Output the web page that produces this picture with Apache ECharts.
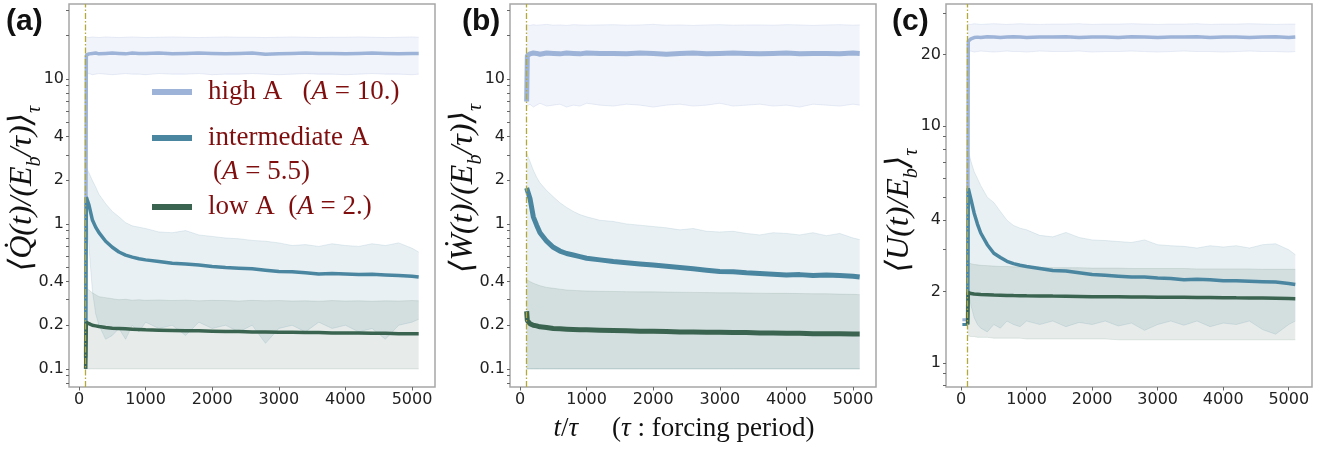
<!DOCTYPE html>
<html>
<head>
<meta charset="utf-8">
<script src="https://cdn.jsdelivr.net/npm/echarts@6/dist/echarts.min.js"></script>
<style>
  html, body { margin: 0; padding: 0; background: #fff; }
  #chart { width: 1333px; height: 456px; }
</style>
</head>
<body>
<div id="chart"></div>
<script>
// time axis shared by every curve (t / tau)
const times = [100, 110, 150, 200, 250, 300, 400, 500, 600, 700, 800, 900, 1000, 1200, 1400, 1600, 1800, 2000, 2200, 2400, 2600, 2800, 3000, 3200, 3400, 3600, 3800, 4000, 4200, 4400, 4600, 4800, 5000, 5100];
const forcingStart = 100;
const xTicks = [0, 1000, 2000, 3000, 4000, 5000];

// (a) heat  <Q/(Eb/tau)>
const qHigh   = [0.1, 14.6, 14.9, 15.0, 15.1, 14.9, 15.0, 15.1, 15.0, 14.9, 15.1, 15.0, 15.0, 15.1, 14.9, 15.0, 15.1, 15.0, 14.9, 15.0, 15.1, 14.8, 14.9, 15.0, 15.1, 15.0, 15.0, 14.9, 15.0, 15.1, 15.0, 14.9, 15.0, 15.0];
const qHighUp = [19.4, 19.4, 19.3, 19.5, 19.4, 19.3, 19.5, 19.4, 19.3, 19.4, 19.5, 19.4, 19.3, 19.4, 19.5, 19.4, 19.3, 19.4, 19.5, 19.4, 19.4, 19.3, 19.4, 19.5, 19.4, 19.3, 19.4, 19.4, 19.5, 19.4, 19.3, 19.4, 19.5, 19.4];
const qHighLo = [10.8, 10.8, 10.9, 10.7, 10.8, 10.9, 10.8, 10.7, 10.8, 10.9, 10.8, 10.8, 10.7, 10.9, 10.8, 10.8, 10.9, 10.7, 10.8, 10.8, 10.9, 10.8, 10.7, 10.8, 10.9, 10.8, 10.8, 10.7, 10.8, 10.9, 10.8, 10.8, 10.7, 10.8];
const qInt    = [0.12, 1.53, 1.35, 1.07, 0.95, 0.87, 0.76, 0.69, 0.64, 0.61, 0.59, 0.575, 0.565, 0.55, 0.535, 0.53, 0.52, 0.508, 0.5, 0.495, 0.49, 0.48, 0.47, 0.468, 0.46, 0.452, 0.455, 0.452, 0.448, 0.45, 0.445, 0.44, 0.435, 0.43];
const qIntUp  = [2.45, 2.45, 2.25, 2.0, 1.8, 1.6, 1.38, 1.22, 1.12, 1.02, 0.97, 0.95, 0.93, 0.88, 0.87, 0.9, 0.84, 0.82, 0.8, 0.79, 0.77, 0.76, 0.74, 0.71, 0.72, 0.7, 0.73, 0.71, 0.7, 0.73, 0.71, 0.74, 0.68, 0.64];
const qIntLo  = [1.5, 1.45, 0.7, 0.35, 0.24, 0.2, 0.16, 0.17, 0.19, 0.16, 0.2, 0.18, 0.21, 0.19, 0.2, 0.17, 0.21, 0.19, 0.2, 0.18, 0.2, 0.15, 0.19, 0.2, 0.18, 0.21, 0.19, 0.2, 0.18, 0.19, 0.16, 0.2, 0.21, 0.22];
const qLow    = [0.1, 0.21, 0.205, 0.2, 0.198, 0.196, 0.193, 0.191, 0.19, 0.189, 0.188, 0.187, 0.186, 0.185, 0.184, 0.183, 0.183, 0.182, 0.181, 0.181, 0.18, 0.18, 0.179, 0.179, 0.178, 0.178, 0.177, 0.177, 0.177, 0.176, 0.176, 0.175, 0.175, 0.175];
const qLowUp  = [0.36, 0.36, 0.35, 0.335, 0.325, 0.315, 0.31, 0.305, 0.3, 0.302, 0.298, 0.3, 0.297, 0.299, 0.296, 0.298, 0.295, 0.297, 0.296, 0.294, 0.297, 0.295, 0.296, 0.294, 0.295, 0.293, 0.296, 0.294, 0.295, 0.293, 0.295, 0.294, 0.296, 0.295];
const qLowLo  = [0.1, 0.1, 0.1, 0.1, 0.1, 0.1, 0.1, 0.1, 0.1, 0.1, 0.1, 0.1, 0.1, 0.1, 0.1, 0.1, 0.1, 0.1, 0.1, 0.1, 0.1, 0.1, 0.1, 0.1, 0.1, 0.1, 0.1, 0.1, 0.1, 0.1, 0.1, 0.1, 0.1, 0.1];

// (b) work  <W/(Eb/tau)>
const wHigh   = [7.0, 14.5, 14.9, 15.1, 15.0, 14.8, 15.1, 15.0, 14.9, 15.1, 15.0, 14.9, 15.1, 15.0, 15.0, 14.9, 15.1, 15.0, 14.8, 15.0, 15.1, 14.9, 15.0, 15.1, 15.0, 14.9, 15.0, 15.1, 14.9, 15.0, 15.0, 14.9, 15.1, 15.0];
const wHighUp = [23.6, 23.6, 23.4, 23.7, 23.5, 23.6, 23.8, 23.5, 23.6, 23.4, 23.7, 23.6, 23.5, 23.6, 23.7, 23.5, 23.6, 23.8, 23.5, 23.6, 23.4, 23.6, 23.7, 23.5, 23.6, 23.6, 23.5, 23.7, 23.6, 23.4, 23.6, 23.7, 23.5, 23.6];
const wHighLo = [6.5, 6.5, 6.7, 6.4, 6.6, 6.8, 6.5, 6.6, 6.7, 6.4, 6.6, 6.5, 6.8, 6.6, 6.5, 6.7, 6.6, 6.4, 6.6, 6.7, 6.5, 6.6, 6.8, 6.5, 6.6, 6.7, 6.5, 6.6, 6.4, 6.7, 6.6, 6.5, 6.7, 6.6];
const wInt    = [1.77, 1.75, 1.5, 1.12, 0.98, 0.87, 0.76, 0.69, 0.65, 0.625, 0.61, 0.595, 0.58, 0.565, 0.55, 0.54, 0.53, 0.52, 0.51, 0.5, 0.49, 0.48, 0.47, 0.468, 0.46, 0.455, 0.45, 0.445, 0.447, 0.44, 0.445, 0.44, 0.435, 0.43];
const wIntUp  = [3.1, 3.0, 2.7, 2.35, 2.1, 1.92, 1.7, 1.54, 1.4, 1.3, 1.22, 1.16, 1.12, 1.06, 1.04, 1.0, 0.98, 0.96, 0.94, 0.91, 0.93, 0.89, 0.88, 0.89, 0.86, 0.84, 0.87, 0.86, 0.84, 0.87, 0.83, 0.86, 0.8, 0.78];
const wIntLo  = [0.1, 0.1, 0.1, 0.1, 0.1, 0.1, 0.1, 0.1, 0.1, 0.1, 0.1, 0.1, 0.1, 0.1, 0.1, 0.1, 0.1, 0.1, 0.1, 0.1, 0.1, 0.1, 0.1, 0.1, 0.1, 0.1, 0.1, 0.1, 0.1, 0.1, 0.1, 0.1, 0.1, 0.1];
const wLow    = [0.25, 0.215, 0.205, 0.2, 0.198, 0.195, 0.193, 0.19, 0.189, 0.188, 0.187, 0.186, 0.186, 0.185, 0.184, 0.183, 0.182, 0.182, 0.181, 0.18, 0.18, 0.179, 0.179, 0.178, 0.178, 0.177, 0.177, 0.176, 0.176, 0.175, 0.175, 0.175, 0.174, 0.174];
const wLowUp  = [0.41, 0.41, 0.4, 0.39, 0.382, 0.375, 0.365, 0.36, 0.355, 0.35, 0.348, 0.346, 0.345, 0.343, 0.342, 0.341, 0.34, 0.34, 0.339, 0.338, 0.337, 0.336, 0.335, 0.335, 0.334, 0.333, 0.332, 0.332, 0.331, 0.33, 0.33, 0.328, 0.327, 0.325];
const wLowLo  = [0.1, 0.1, 0.1, 0.1, 0.1, 0.1, 0.1, 0.1, 0.1, 0.1, 0.1, 0.1, 0.1, 0.1, 0.1, 0.1, 0.1, 0.1, 0.1, 0.1, 0.1, 0.1, 0.1, 0.1, 0.1, 0.1, 0.1, 0.1, 0.1, 0.1, 0.1, 0.1, 0.1, 0.1];

// (c) energy  <U/Eb>
const preTimes = [20, 100];
const uHighPre = [1.52, 1.52];
const uIntPre  = [1.45, 1.45];
const uHigh   = [1.52, 22.8, 23.3, 23.6, 23.7, 23.6, 23.8, 23.7, 23.6, 23.7, 23.8, 23.7, 23.6, 23.7, 23.7, 23.8, 23.6, 23.7, 23.7, 23.6, 23.8, 23.7, 23.6, 23.7, 23.7, 23.8, 23.6, 23.7, 23.7, 23.6, 23.7, 23.8, 23.6, 23.7];
const uHighUp = [26.9, 26.9, 26.8, 27.0, 26.9, 26.8, 26.9, 27.0, 26.9, 26.8, 26.9, 27.0, 26.9, 26.8, 26.9, 26.9, 27.0, 26.8, 26.9, 26.9, 27.0, 26.9, 26.8, 26.9, 26.9, 27.0, 26.8, 26.9, 26.9, 27.0, 26.9, 26.8, 26.9, 26.9];
const uHighLo = [20.6, 20.6, 20.7, 20.5, 20.6, 20.7, 20.6, 20.5, 20.6, 20.7, 20.6, 20.6, 20.5, 20.7, 20.6, 20.6, 20.7, 20.5, 20.6, 20.6, 20.7, 20.6, 20.5, 20.6, 20.7, 20.6, 20.6, 20.5, 20.6, 20.7, 20.6, 20.6, 20.5, 20.6];
const uInt    = [1.45, 5.45, 4.9, 4.28, 3.85, 3.53, 3.15, 2.9, 2.78, 2.68, 2.62, 2.58, 2.55, 2.5, 2.45, 2.44, 2.4, 2.36, 2.34, 2.32, 2.3, 2.3, 2.28, 2.27, 2.24, 2.25, 2.24, 2.22, 2.22, 2.21, 2.2, 2.19, 2.16, 2.14];
const uIntUp  = [8.0, 7.9, 7.1, 6.4, 6.0, 5.6, 5.0, 4.75, 4.35, 4.0, 3.8, 3.7, 3.64, 3.45, 3.4, 3.55, 3.38, 3.3, 3.28, 3.25, 3.22, 3.3, 3.15, 3.12, 3.1, 3.05, 3.12, 3.08, 3.12, 3.05, 3.15, 3.18, 3.0, 2.86];
const uIntLo  = [2.0, 2.0, 1.75, 1.55, 1.45, 1.4, 1.35, 1.45, 1.4, 1.5, 1.45, 1.42, 1.5, 1.45, 1.5, 1.42, 1.48, 1.45, 1.5, 1.43, 1.47, 1.37, 1.45, 1.5, 1.44, 1.5, 1.42, 1.47, 1.45, 1.5, 1.38, 1.32, 1.45, 1.5];
const uLow    = [1.45, 1.98, 1.96, 1.95, 1.945, 1.94, 1.935, 1.93, 1.928, 1.925, 1.922, 1.92, 1.918, 1.915, 1.912, 1.91, 1.905, 1.9, 1.9, 1.898, 1.895, 1.893, 1.89, 1.89, 1.888, 1.886, 1.885, 1.883, 1.88, 1.878, 1.875, 1.872, 1.868, 1.865];
const uLowUp  = [2.65, 2.65, 2.62, 2.6, 2.59, 2.58, 2.57, 2.56, 2.55, 2.55, 2.54, 2.54, 2.53, 2.53, 2.52, 2.52, 2.52, 2.51, 2.51, 2.51, 2.5, 2.5, 2.5, 2.5, 2.5, 2.49, 2.49, 2.49, 2.49, 2.49, 2.48, 2.48, 2.48, 2.48];
const uLowLo  = [1.3, 1.3, 1.29, 1.29, 1.28, 1.28, 1.28, 1.27, 1.27, 1.27, 1.27, 1.27, 1.26, 1.26, 1.26, 1.26, 1.26, 1.26, 1.26, 1.25, 1.25, 1.25, 1.25, 1.25, 1.25, 1.25, 1.25, 1.25, 1.25, 1.25, 1.25, 1.25, 1.25, 1.25];

// y tick labels
const yLabelsQW = [0.1, 0.2, 0.4, 1, 2, 4, 10];
const yMinorQW = [0.08, 0.09, 0.1, 0.2, 0.3, 0.4, 0.5, 0.6, 0.7, 0.8, 0.9, 1, 2, 3, 4, 5, 6, 7, 8, 9, 10, 20, 30];
const yLabelsU = [1, 2, 4, 10, 20];
const yMinorU = [0.8, 0.9, 1, 2, 3, 4, 5, 6, 7, 8, 9, 10, 20, 30];

const colors = { high: '#9db3d7', inter: '#4a86a0', low: '#3a6450' };
const fills = { high: 'rgba(150,172,214,0.13)', inter: 'rgba(74,134,160,0.12)', low: 'rgba(58,100,80,0.12)' };
const edges = { high: 'rgba(150,172,214,0.25)', inter: 'rgba(74,134,160,0.18)', low: 'rgba(58,100,80,0.16)' };

const serif = 'Liberation Serif, DejaVu Serif, serif';
const sans = 'DejaVu Sans, sans-serif';

let chart = echarts.init(document.getElementById('chart'));

function pairs(ts, vals) {
    return ts.map((t, i) => [t, vals[i]]);
}

function meanSeries(g, name, ts, vals, key, width) {
    return {
        name: name, type: 'line', xAxisIndex: g, yAxisIndex: g,
        data: pairs(ts, vals), showSymbol: false, symbol: 'circle',
        lineStyle: { color: colors[key], width: width },
        itemStyle: { color: colors[key] },
        z: 4, silent: true
    };
}

// shaded spread: one polygon between the lower and upper curve
function bandSeries(g, key, lo, up) {
    return {
        name: key + ' band', type: 'custom', xAxisIndex: g, yAxisIndex: g, z: 1, silent: true,
        data: times.map((t, i) => [t, lo[i], up[i]]),
        encode: { x: 0, y: [1, 2] },
        renderItem: function (params, api) {
            if (params.dataIndex !== 0) return null;
            const top = times.map((t, i) => api.coord([t, up[i]]));
            const bottom = times.map((t, i) => api.coord([t, lo[i]]));
            return {
                type: 'group',
                children: [
                    { type: 'polygon', shape: { points: top.concat(bottom.slice().reverse()) }, style: { fill: fills[key] } },
                    { type: 'polyline', shape: { points: top }, style: { stroke: edges[key], lineWidth: 0.8, fill: null } },
                    { type: 'polyline', shape: { points: bottom }, style: { stroke: edges[key], lineWidth: 0.8, fill: null } }
                ]
            };
        }
    };
}

function markSeries(g) {
    return {
        name: 'forcing', type: 'line', xAxisIndex: g, yAxisIndex: g, data: [], z: 6,
        markLine: {
            silent: true, symbol: ['none', 'none'], label: { show: false },
            lineStyle: { color: '#b3a93a', width: 1.3, type: [6, 2, 1.5, 2] },
            data: [{ xAxis: forcingStart }]
        }
    };
}

function xAxisCfg(g, min, max, extra) {
    return Object.assign({
        type: 'value', gridIndex: g, min: min, max: max,
        axisLine: { show: false, onZero: false },
        axisTick: { show: true, length: 3.5, customValues: xTicks, lineStyle: { color: '#666' } },
        axisLabel: { customValues: xTicks, formatter: v => String(v), margin: 5, fontFamily: sans, fontSize: 16, color: '#222' },
        splitLine: { show: false }
    }, extra || {});
}

function yAxisCfg(g, min, max, labels, minors, name, pad) {
    return {
        type: 'log', logBase: 10, gridIndex: g, min: min, max: max,
        name: name, nameLocation: 'middle', nameGap: 24, nameMoveOverlap: false,
        nameTextStyle: {
            fontFamily: serif, fontStyle: 'italic', fontSize: 32, color: '#111', lineHeight: 34, padding: pad,
            rich: { s: { fontFamily: serif, fontStyle: 'italic', fontSize: 20, color: '#111', verticalAlign: 'bottom', lineHeight: 44 } }
        },
        axisLine: { show: false, onZero: false },
        axisTick: { show: true, length: 3, customValues: minors, lineStyle: { color: '#666' } },
        axisLabel: { customValues: labels, formatter: v => String(+Number(v).toPrecision(3)), margin: 5, fontFamily: sans, fontSize: 16, color: '#222' },
        splitLine: { show: false },
        minorTick: { show: false }
    };
}

const gridBase = { top: 4, width: 366, height: 383, show: true, borderColor: '#a6a6a6', borderWidth: 1.5, containLabel: false, outerBoundsMode: 'none' };

const legendText = {
    fontFamily: serif, fontSize: 27, color: '#7f0f0f', lineHeight: 30, padding: [0, 0, 0, 11],
    rich: { i: { fontFamily: serif, fontStyle: 'italic', fontSize: 27, color: '#7f0f0f', lineHeight: 30 } }
};
function legendCfg(name, top, label) {
    return {
        left: 152, top: top, padding: 0, itemWidth: 40, itemHeight: 6, icon: 'rect',
        selectedMode: false, itemStyle: { borderWidth: 0 },
        data: [name], formatter: () => label, textStyle: legendText
    };
}

let series = [];
series.push(bandSeries(0, 'high', qHighLo, qHighUp), bandSeries(0, 'inter', qIntLo, qIntUp), bandSeries(0, 'low', qLowLo, qLowUp));
series.push(meanSeries(0, 'high A', times, qHigh, 'high', 3.5), meanSeries(0, 'intermediate A', times, qInt, 'inter', 3.5), meanSeries(0, 'low A', times, qLow, 'low', 3.5), markSeries(0));
series.push(bandSeries(1, 'high', wHighLo, wHighUp), bandSeries(1, 'inter', wIntLo, wIntUp), bandSeries(1, 'low', wLowLo, wLowUp));
series.push(meanSeries(1, 'high A', times, wHigh, 'high', 5), meanSeries(1, 'intermediate A', times, wInt, 'inter', 5), meanSeries(1, 'low A', times, wLow, 'low', 5), markSeries(1));
series.push(bandSeries(2, 'high', uHighLo, uHighUp), bandSeries(2, 'inter', uIntLo, uIntUp), bandSeries(2, 'low', uLowLo, uLowUp));
series.push(meanSeries(2, 'high A', preTimes, uHighPre, 'high', 3), meanSeries(2, 'intermediate A', preTimes, uIntPre, 'inter', 3));
series.push(meanSeries(2, 'high A', times, uHigh, 'high', 3.5), meanSeries(2, 'intermediate A', times, uInt, 'inter', 3.5), meanSeries(2, 'low A', times, uLow, 'low', 3.5), markSeries(2));

const panelTitle = { fontFamily: 'Liberation Sans, Arial, sans-serif', fontWeight: 'bold', fontSize: 30, color: '#111' };

let option = {
    backgroundColor: '#fff',
    animation: false,
    title: [
        { text: '(a)', left: 6, top: 7, padding: 0, textStyle: panelTitle },
        { text: '(b)', left: 462, top: 7, padding: 0, textStyle: panelTitle },
        { text: '(c)', left: 892, top: 7, padding: 0, textStyle: panelTitle }
    ],
    legend: [
        legendCfg('high A', 77, 'high A   ({i|A} = 10.)'),
        legendCfg('intermediate A', 123, 'intermediate A'),
        legendCfg('low A', 192, 'low A  ({i|A} = 2.)')
    ],
    graphic: [{
        type: 'text', left: 213, top: 158, silent: true,
        style: {
            text: '({i|A} = 5.5)', fontFamily: serif, fontSize: 27, fill: '#7f0f0f',
            rich: { i: { fontFamily: serif, fontStyle: 'italic', fontSize: 27, fill: '#7f0f0f' } }
        }
    }],
    grid: [
        Object.assign({ left: 69 }, gridBase),
        Object.assign({ left: 510 }, gridBase),
        Object.assign({ left: 946 }, gridBase)
    ],
    xAxis: [
        xAxisCfg(0, -150, 5345),
        xAxisCfg(1, -150, 5345, {
            name: '{i|t}/{i|τ}     ({i|τ} : forcing period)', nameLocation: 'middle', nameGap: 28,
            nameTextStyle: {
                fontFamily: serif, fontSize: 27, color: '#111', padding: [0, 18, 0, 0],
                rich: { i: { fontFamily: serif, fontStyle: 'italic', fontSize: 27, color: '#111' } }
            }
        }),
        xAxisCfg(2, -230, 5355)
    ],
    yAxis: [
        yAxisCfg(0, 0.075, 32.9, yLabelsQW, yMinorQW, '⟨Q\u0307(t)/(E{s|b}/τ)⟩{s|τ}', [0, 0, 0, 14]),
        yAxisCfg(1, 0.075, 32.9, yLabelsQW, yMinorQW, '⟨Ẇ(t)/(E{s|b}/τ)⟩{s|τ}', [0, 0, 0, 14]),
        yAxisCfg(2, 0.79, 32.7, yLabelsU, yMinorU, '⟨U(t)/E{s|b}⟩{s|τ}', [0, 30, 0, 0])
    ],
    series: series
};

chart.setOption(option);
</script>
</body>
</html>
